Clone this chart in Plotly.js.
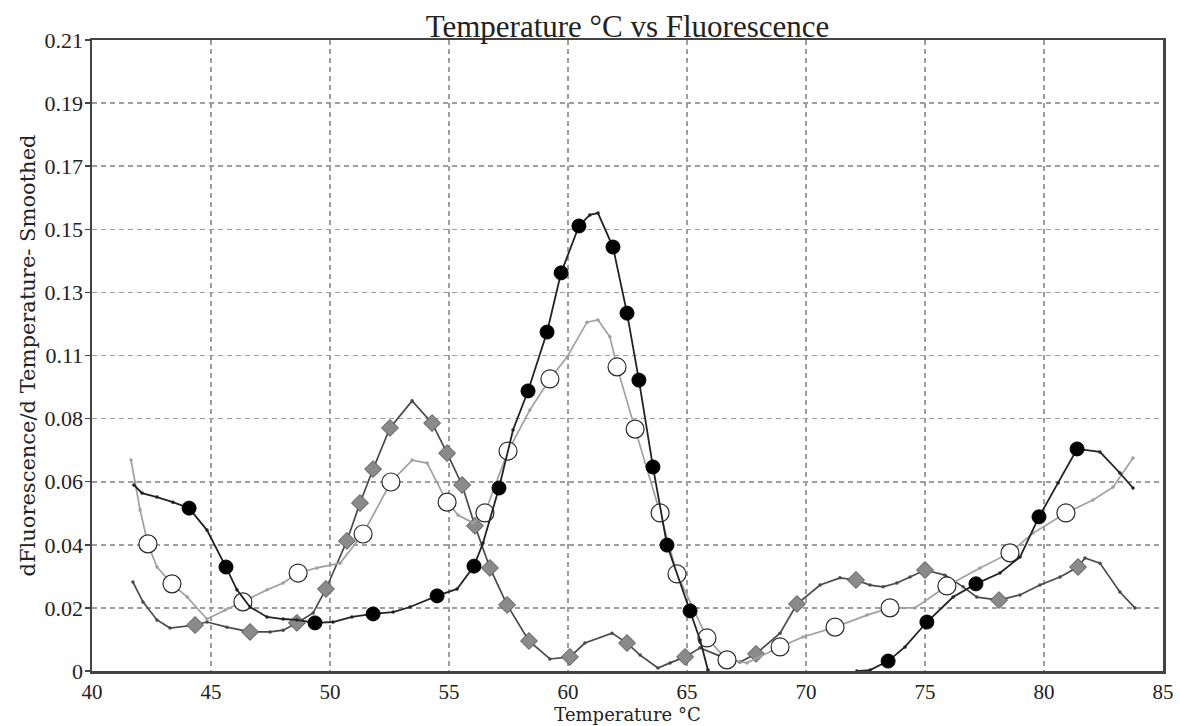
<!DOCTYPE html>
<html>
<head>
<meta charset="utf-8">
<script src="https://cdn.plot.ly/plotly-3.0.1.min.js"></script>
<style>
  html, body { margin: 0; padding: 0; background: #ffffff; }
  #chart { width: 1180px; height: 726px; }
</style>
</head>
<body>
<div id="chart"></div>
<script>
// ---- Data ----
// Series 1: filled black circles
const blackTemp = [41.76, 42.10, 42.73, 43.40, 44.08, 44.83, 45.63, 46.09, 46.64, 47.35,
  48.03, 48.61, 49.37, 50.13, 50.92, 51.81, 52.65, 53.36, 54.50, 55.34,
  56.05, 56.43, 57.10, 57.69, 58.32, 59.12, 59.71, 60.46, 60.92, 61.26,
  61.89, 62.48, 62.98, 63.57, 64.16, 65.13, 65.55, 65.88, 66.40, 68.50,
  71.00, 72.14, 72.69, 73.45, 74.16, 75.08, 76.18, 77.14, 78.15, 78.99,
  79.79, 80.59, 81.39, 82.35, 83.19, 83.74];
const blackFluor = [0.0619, 0.0592, 0.0579, 0.0562, 0.0542, 0.0469, 0.0346, 0.0270, 0.0213, 0.0180,
  0.0173, 0.0170, 0.0160, 0.0163, 0.0180, 0.0190, 0.0196, 0.0213, 0.0250, 0.0273,
  0.0349, 0.0426, 0.0609, 0.0802, 0.0932, 0.1128, 0.1325, 0.1481, 0.1518, 0.1524,
  0.1411, 0.1191, 0.0968, 0.0679, 0.0419, 0.0200, 0.0103, 0.0003, -0.0100, -0.0200,
  -0.0100, 0.0000, 0.0003, 0.0033, 0.0080, 0.0163, 0.0246, 0.0290, 0.0326, 0.0379,
  0.0513, 0.0626, 0.0739, 0.0729, 0.0659, 0.0609];
const blackMarked = [4, 6, 12, 15, 18, 20, 22, 24, 25, 26, 27, 30, 31, 32, 33, 34, 35, 43, 45, 47, 50, 52];

// Series 2: open white circles
const openTemp = [41.64, 41.81, 42.02, 42.35, 42.73, 43.36, 44.00, 44.83, 45.59, 46.34,
  47.35, 48.03, 48.66, 49.45, 50.42, 51.39, 52.56, 53.45, 54.08, 54.92,
  55.38, 56.01, 56.51, 57.48, 58.40, 59.24, 59.96, 60.80, 61.26, 61.76,
  62.06, 62.82, 63.87, 64.58, 65.84, 66.68, 67.52, 68.91, 69.87, 71.22,
  72.56, 73.53, 74.58, 75.92, 77.31, 78.57, 79.54, 80.92, 82.06, 82.90, 83.74];
const openFluor = [0.0702, 0.0629, 0.0536, 0.0423, 0.0346, 0.0290, 0.0246, 0.0173, 0.0203, 0.0230,
  0.0270, 0.0293, 0.0326, 0.0343, 0.0359, 0.0456, 0.0629, 0.0702, 0.0692, 0.0562,
  0.0519, 0.0493, 0.0526, 0.0732, 0.0869, 0.0972, 0.1045, 0.1161, 0.1168, 0.1112,
  0.1012, 0.0805, 0.0526, 0.0323, 0.0110, 0.0037, 0.0027, 0.0080, 0.0113, 0.0146,
  0.0186, 0.0210, 0.0210, 0.0283, 0.0343, 0.0393, 0.0459, 0.0526, 0.0569, 0.0612, 0.0709];
const openMarked = [3, 5, 9, 12, 15, 16, 19, 22, 23, 25, 30, 31, 32, 33, 34, 35, 37, 39, 41, 43, 45, 47];

// Series 3: grey diamonds
const diamondTemp = [41.72, 42.14, 42.73, 43.28, 44.33, 44.83, 45.67, 46.64, 47.48, 48.03,
  48.61, 49.29, 49.83, 50.71, 51.26, 51.81, 52.52, 53.45, 54.29, 54.92,
  55.55, 56.09, 56.72, 57.44, 58.36, 59.24, 60.08, 60.71, 61.85, 62.48,
  63.03, 63.78, 64.29, 64.92, 65.55, 66.47, 67.23, 67.90, 68.91, 69.62,
  70.59, 71.43, 72.10, 72.69, 73.24, 73.82, 74.37, 75.00, 75.84, 76.60,
  77.18, 78.11, 78.99, 79.83, 80.67, 81.43, 81.72, 82.35, 83.19, 83.82];
const diamondFluor = [0.0296, 0.0230, 0.0170, 0.0143, 0.0153, 0.0163, 0.0146, 0.0130, 0.0130, 0.0136,
  0.0160, 0.0193, 0.0273, 0.0433, 0.0559, 0.0672, 0.0809, 0.0899, 0.0825, 0.0725,
  0.0619, 0.0483, 0.0343, 0.0220, 0.0100, 0.0040, 0.0047, 0.0093, 0.0126, 0.0093,
  0.0053, 0.0010, 0.0027, 0.0047, 0.0077, 0.0047, 0.0030, 0.0057, 0.0126, 0.0223,
  0.0286, 0.0310, 0.0303, 0.0286, 0.0280, 0.0293, 0.0313, 0.0336, 0.0319, 0.0280,
  0.0246, 0.0236, 0.0253, 0.0286, 0.0313, 0.0346, 0.0376, 0.0359, 0.0263, 0.0210];
const diamondMarked = [4, 7, 10, 12, 13, 14, 15, 16, 18, 19, 20, 21, 22, 23, 24, 26, 29, 33, 37, 39, 42, 47, 51, 55];

// Axis ticks
const xTicks = [40, 45, 50, 55, 60, 65, 70, 75, 80, 85];
const yTickLabels = ['0', '0.02', '0.04', '0.06', '0.08', '0.11', '0.13', '0.15', '0.17', '0.19', '0.21'];
const yMax = 0.21;

// ---- Build traces ----
function seriesTrace(xs, ys, marked, st) {
  const isBig = xs.map((_, i) => marked.indexOf(i) >= 0);
  return {
    type: 'scatter',
    mode: 'lines+markers',
    x: xs,
    y: ys,
    hoverinfo: 'skip',
    cliponaxis: true,
    line: { color: st.lineColor, width: st.lineWidth },
    marker: {
      opacity: 1,
      symbol: isBig.map(b => b ? st.symbol : 'circle'),
      size: isBig.map(b => b ? st.bigSize : st.smallSize),
      color: isBig.map(b => b ? st.fill : st.lineColor),
      line: {
        color: isBig.map(b => b ? st.edge : st.lineColor),
        width: isBig.map(b => b ? st.edgeWidth : 0)
      }
    }
  };
}

const traces = [
  seriesTrace(diamondTemp, diamondFluor, diamondMarked, {
    lineColor: '#4a4a4a', lineWidth: 1.7, symbol: 'diamond', bigSize: 13, smallSize: 3.5,
    fill: '#8a8a8a', edge: '#555555', edgeWidth: 1
  }),
  seriesTrace(openTemp, openFluor, openMarked, {
    lineColor: '#a0a0a0', lineWidth: 1.7, symbol: 'circle', bigSize: 18, smallSize: 3.5,
    fill: '#ffffff', edge: '#2a2a2a', edgeWidth: 1.2
  }),
  seriesTrace(blackTemp, blackFluor, blackMarked, {
    lineColor: '#222222', lineWidth: 1.8, symbol: 'circle', bigSize: 14, smallSize: 3.5,
    fill: '#000000', edge: '#000000', edgeWidth: 1
  })
];

const serif = 'Liberation Serif, DejaVu Serif, serif';
const wideSerif = 'DejaVu Serif, Liberation Serif, serif';

const layout = {
  width: 1180,
  height: 726,
  paper_bgcolor: '#ffffff',
  plot_bgcolor: '#ffffff',
  showlegend: false,
  hovermode: false,
  margin: { l: 92, r: 17, t: 40, b: 55, pad: 0 },
  title: {
    text: 'Temperature °C vs Fluorescence',
    font: { family: serif, size: 31, color: '#222222' },
    x: 0.5, xref: 'paper', xanchor: 'center',
    y: 1 - 26 / 726, yref: 'container', yanchor: 'middle'
  },
  xaxis: {
    range: [40, 85],
    tickvals: xTicks,
    ticktext: xTicks.map(String),
    tickfont: { family: serif, size: 21, color: '#222222' },
    showgrid: true,
    gridcolor: '#9e9e9e',
    gridwidth: 1.6,
    griddash: '5px,4px',
    zeroline: false,
    showline: true,
    linecolor: '#444444',
    linewidth: 2.5,
    mirror: true,
    ticks: '',
    title: {
      text: 'Temperature °C',
      font: { family: wideSerif, size: 18, color: '#222222' },
      standoff: 6
    }
  },
  yaxis: {
    range: [0, yMax],
    tickvals: yTickLabels.map((_, i) => i * yMax / 10),
    ticktext: yTickLabels,
    tickfont: { family: serif, size: 22, color: '#222222' },
    showgrid: true,
    gridcolor: '#9e9e9e',
    gridwidth: 1.6,
    griddash: '5px,4px',
    zeroline: false,
    showline: true,
    linecolor: '#444444',
    linewidth: 2.5,
    mirror: true,
    ticks: 'outside',
    ticklen: 5,
    tickwidth: 1.5,
    tickcolor: '#444444',
    ticklabelstandoff: -3,
    title: {
      text: 'dFluorescence/d Temperature- Smoothed',
      font: { family: wideSerif, size: 21, color: '#222222' },
      standoff: 3
    }
  }
};

Plotly.newPlot('chart', traces, layout, { displayModeBar: false, staticPlot: true });
</script>
</body>
</html>
